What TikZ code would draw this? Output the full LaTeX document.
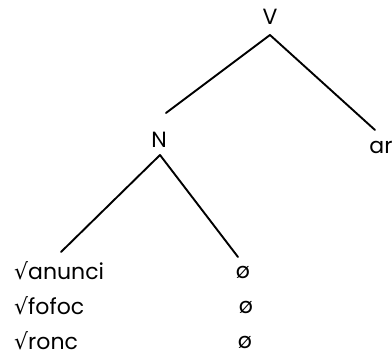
\documentclass[tikz,border=0pt]{standalone}
\usepackage{fontspec}
\setmainfont{Poppins}
\newfontfamily\symfont{DejaVu Sans}
\begin{document}
\begin{tikzpicture}[x=1pt,y=1pt,
  lbl/.style={inner sep=0pt, font=\fontsize{22}{24}\selectfont},
  edge/.style={line width=1.9pt, line cap=round}]
\useasboundingbox (0,0) rectangle (392,-358);
\node[lbl] (V) at (270,-17) {V};
\node[lbl] (N) at (159,-140) {N};
\node[lbl] (ar) at (381,-147) {ar};
\node[lbl, anchor=west] (r1) at (14,-271) {{\symfont √}anunci};
\node[lbl, anchor=west] (r2) at (14,-306) {{\symfont √}fofoc};
\node[lbl, anchor=west] (r3) at (14,-341) {{\symfont √}ronc};
\node[lbl] (z1) at (243,-272) {ø};
\node[lbl] (z2) at (246,-307) {ø};
\node[lbl] (z3) at (245,-342) {ø};
\coordinate (Vb) at (270,-35);
\coordinate (Nt) at (166,-113);
\coordinate (art) at (375,-130);
\coordinate (Nb) at (160,-155);
\coordinate (r1t) at (61,-252);
\coordinate (z1t) at (238,-257);
\draw[edge] (Vb) -- (Nt);
\draw[edge] (Vb) -- (art);
\draw[edge] (Nb) -- (r1t);
\draw[edge] (Nb) -- (z1t);
\end{tikzpicture}
\end{document}
